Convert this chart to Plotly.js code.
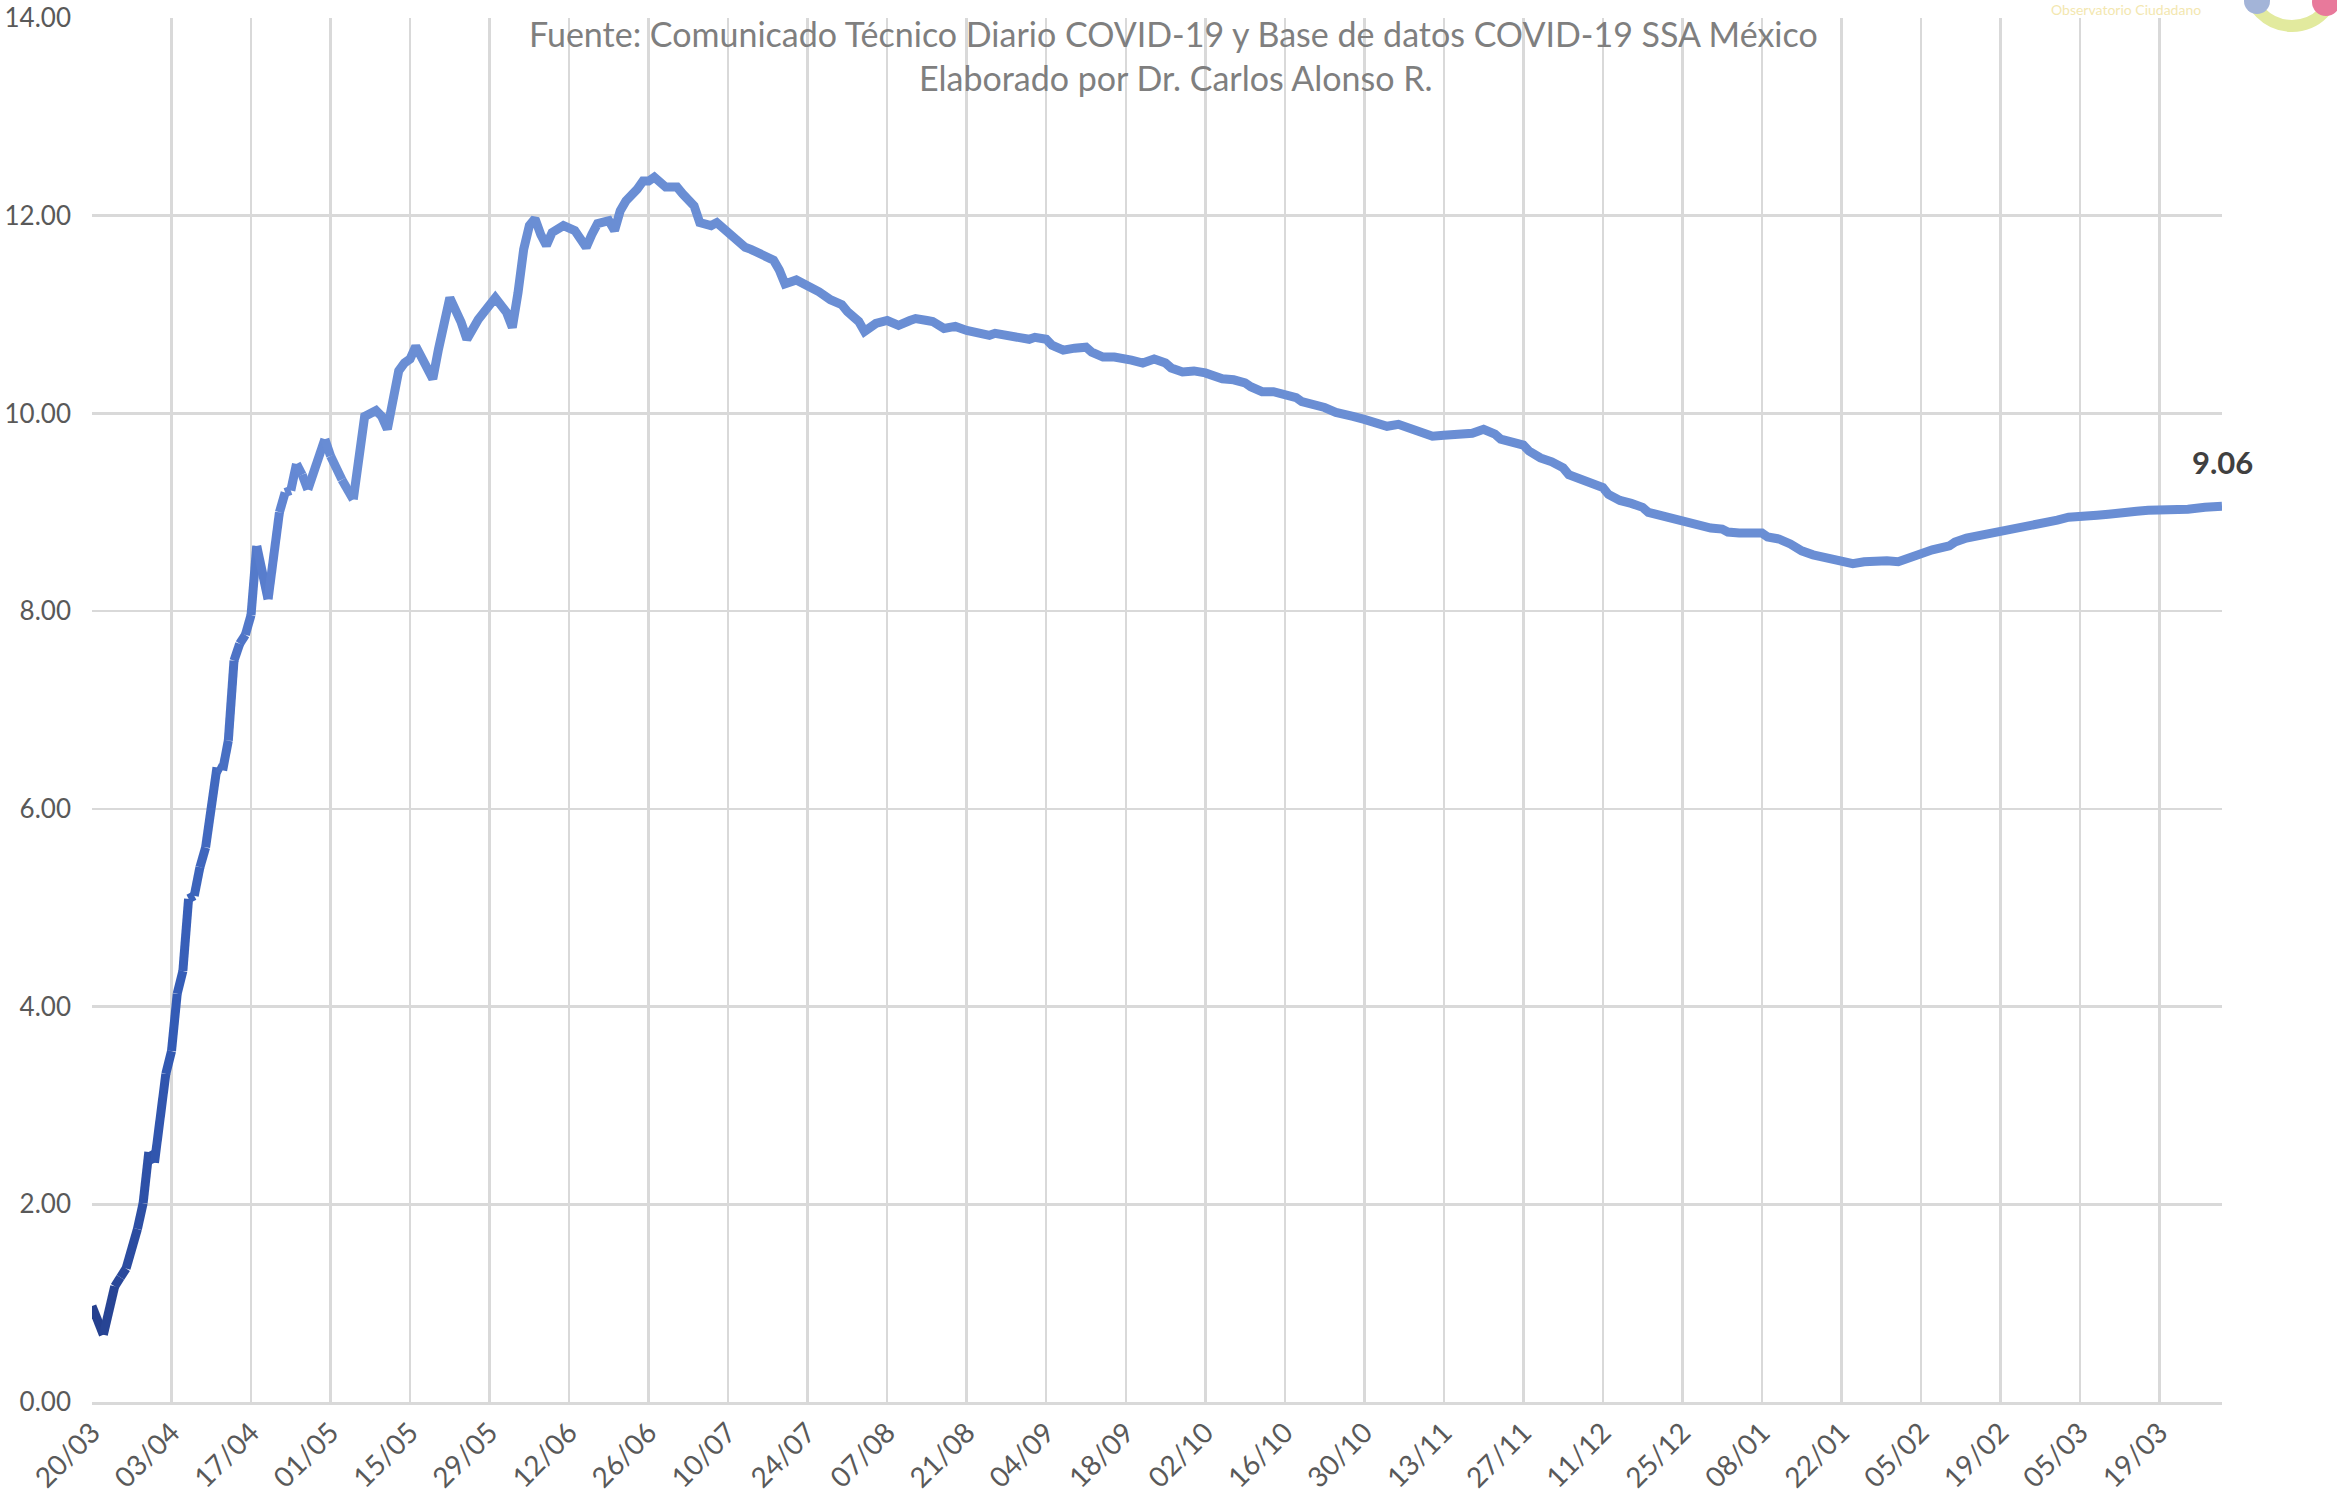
<!DOCTYPE html>
<html><head><meta charset="utf-8">
<script src="https://cdn.plot.ly/plotly-3.0.1.min.js"></script>
<style>html,body{margin:0;padding:0;background:#fff;} #chart{width:2337px;height:1511px;}</style>
</head><body><div id="chart"></div>
<script>
// ---- Data ----
const fechas = [
'2020-03-20','2020-03-22','2020-03-24','2020-03-25','2020-03-26','2020-03-28','2020-03-29','2020-03-30','2020-03-31',
'2020-04-02','2020-04-03','2020-04-04','2020-04-05','2020-04-06','2020-04-07','2020-04-08','2020-04-09','2020-04-11',
'2020-04-12','2020-04-13','2020-04-14','2020-04-15','2020-04-16','2020-04-17','2020-04-18','2020-04-20','2020-04-22',
'2020-04-23','2020-04-24','2020-04-25','2020-04-26','2020-04-27','2020-04-30','2020-05-01','2020-05-03','2020-05-05',
'2020-05-06','2020-05-07','2020-05-09','2020-05-10','2020-05-11','2020-05-13','2020-05-14','2020-05-15','2020-05-16',
'2020-05-18','2020-05-19','2020-05-20','2020-05-21','2020-05-22','2020-05-24','2020-05-25','2020-05-27','2020-05-29',
'2020-05-30','2020-06-01','2020-06-02','2020-06-03','2020-06-04','2020-06-05','2020-06-06','2020-06-07','2020-06-08',
'2020-06-09','2020-06-11','2020-06-13','2020-06-14','2020-06-15','2020-06-16','2020-06-17','2020-06-19','2020-06-20',
'2020-06-21','2020-06-22','2020-06-24','2020-06-25','2020-06-26','2020-06-27','2020-06-29','2020-06-30','2020-07-01',
'2020-07-02','2020-07-04','2020-07-05','2020-07-07','2020-07-08','2020-07-09','2020-07-11','2020-07-13','2020-07-14',
'2020-07-16','2020-07-18','2020-07-19','2020-07-20','2020-07-22','2020-07-24','2020-07-26','2020-07-28','2020-07-30',
'2020-07-31','2020-08-02','2020-08-03','2020-08-05','2020-08-07','2020-08-09','2020-08-11','2020-08-12','2020-08-14',
'2020-08-15','2020-08-17','2020-08-19','2020-08-21','2020-08-23','2020-08-25','2020-08-26','2020-08-28','2020-08-30',
'2020-09-01','2020-09-02','2020-09-04','2020-09-05','2020-09-07','2020-09-09','2020-09-11','2020-09-12','2020-09-14',
'2020-09-16','2020-09-18','2020-09-19','2020-09-21','2020-09-23','2020-09-25','2020-09-26','2020-09-28','2020-09-30',
'2020-10-02','2020-10-03','2020-10-05','2020-10-07','2020-10-09','2020-10-10','2020-10-12','2020-10-14','2020-10-16',
'2020-10-18','2020-10-19','2020-10-21','2020-10-23','2020-10-25','2020-10-27','2020-10-28','2020-10-30','2020-11-01',
'2020-11-03','2020-11-05','2020-11-06','2020-11-08','2020-11-10','2020-11-11','2020-11-13','2020-11-15','2020-11-17',
'2020-11-18','2020-11-20','2020-11-22','2020-11-23','2020-11-25','2020-11-27','2020-11-28','2020-11-30','2020-12-02',
'2020-12-04','2020-12-05','2020-12-07','2020-12-09','2020-12-11','2020-12-12','2020-12-14','2020-12-16','2020-12-18',
'2020-12-19','2020-12-21','2020-12-23','2020-12-25','2020-12-26','2020-12-28','2020-12-30','2021-01-01','2021-01-02',
'2021-01-04','2021-01-06','2021-01-08','2021-01-09','2021-01-11','2021-01-13','2021-01-15','2021-01-17','2021-01-19',
'2021-01-21','2021-01-23','2021-01-24','2021-01-26','2021-01-28','2021-01-30','2021-02-01','2021-02-02','2021-02-04',
'2021-02-05','2021-02-07','2021-02-10','2021-02-11','2021-02-13','2021-02-15','2021-02-17','2021-02-20','2021-02-22',
'2021-02-24','2021-02-26','2021-03-01','2021-03-03','2021-03-05','2021-03-08','2021-03-10','2021-03-12','2021-03-15',
'2021-03-17','2021-03-20','2021-03-22','2021-03-24','2021-03-27','2021-03-30'
];
const letalidad = [
0.97,0.68,1.17,1.26,1.35,1.75,2.01,2.53,2.42,
3.32,3.55,4.13,4.36,5.09,5.12,5.41,5.61,6.42,
6.39,6.69,7.50,7.67,7.76,7.96,8.66,8.12,9.00,
9.20,9.22,9.49,9.38,9.23,9.74,9.57,9.33,9.13,
9.65,9.97,10.03,9.97,9.84,10.43,10.51,10.55,10.68,
10.48,10.35,10.65,10.92,11.17,10.92,10.75,10.95,11.12,
11.17,11.02,10.87,11.22,11.66,11.90,11.97,11.81,11.70,
11.83,11.90,11.85,11.76,11.68,11.81,11.92,11.95,11.85,
12.05,12.15,12.27,12.35,12.35,12.39,12.29,12.29,12.29,
12.22,12.10,11.93,11.90,11.93,11.88,11.78,11.68,11.66,
11.61,11.55,11.45,11.31,11.35,11.30,11.23,11.15,11.10,
11.03,10.93,10.83,10.91,10.94,10.89,10.94,10.96,10.94,
10.93,10.86,10.88,10.84,10.81,10.79,10.81,10.79,10.78,
10.75,10.77,10.75,10.69,10.64,10.66,10.67,10.62,10.57,
10.57,10.56,10.54,10.51,10.55,10.51,10.46,10.42,10.43,
10.41,10.39,10.35,10.34,10.31,10.27,10.22,10.22,10.20,
10.16,10.12,10.10,10.06,10.01,9.97,9.97,9.94,9.91,
9.87,9.89,9.87,9.84,9.79,9.77,9.78,9.78,9.79,
9.80,9.84,9.79,9.74,9.70,9.68,9.62,9.55,9.51,
9.45,9.38,9.33,9.30,9.25,9.18,9.12,9.09,9.05,
9.00,8.97,8.93,8.91,8.88,8.85,8.84,8.83,8.80,
8.79,8.80,8.79,8.75,8.73,8.68,8.61,8.57,8.55,
8.52,8.49,8.48,8.50,8.51,8.51,8.50,8.52,8.57,
8.60,8.62,8.66,8.70,8.74,8.76,8.80,8.83,8.84,
8.87,8.89,8.92,8.95,8.95,8.97,8.98,9.00,9.01,
9.02,9.02,9.03,9.03,9.05,9.06
];
const inicioEje = '2020-03-20';
const finEje = '2021-03-30';
const textoFuente = 'Fuente: Comunicado Técnico Diario COVID-19 y Base de datos COVID-19 SSA México';
const textoAutor = 'Elaborado por Dr. Carlos Alonso R.';
const textoObservatorio = 'Observatorio Ciudadano';

// ---- Styling ----
const FONT = 'Lato, "Open Sans", sans-serif';
const W = 2337, H = 1511;
const M = {l: 92, r: 115, t: 18, b: 109};
const PW = W - M.l - M.r, PH = H - M.t - M.b;
const px2x = p => (p - M.l) / PW;
const py2y = p => (H - M.b - p) / PH;

// gradient for the early part of the line (dark navy -> light blue)
const stops = [[0,[36,62,140]],[15,[52,92,182]],[35,[100,136,212]],[45,[106,142,212]]];
function colorAt(d){
  if (d >= stops[stops.length-1][0]) return stops[stops.length-1][1];
  for (let k=0;k<stops.length-1;k++){
    const [d0,c0]=stops[k],[d1,c1]=stops[k+1];
    if (d>=d0 && d<=d1){const t=(d-d0)/(d1-d0);return c0.map((v,j)=>Math.round(v+(c1[j]-v)*t));}
  }
  return stops[0][1];
}
const t0 = Date.parse(inicioEje);
const dayOf = s => (Date.parse(s) - t0) / 86400000;

const LW = 9;
const traces = [];
let split = fechas.findIndex(f => dayOf(f) >= 45);
for (let i = 0; i < split; i++) {
  const c = colorAt((dayOf(fechas[i]) + dayOf(fechas[i+1]))/2);
  traces.push({x: fechas.slice(i, i+2), y: letalidad.slice(i, i+2), type: 'scatter', mode: 'lines',
    line: {color: `rgb(${c.join(',')})`, width: LW}, hoverinfo: 'skip', showlegend: false});
}
traces.push({x: fechas.slice(split), y: letalidad.slice(split), type: 'scatter', mode: 'lines',
  line: {color: 'rgb(106,142,212)', width: LW}, showlegend: false});

const last = letalidad.length - 1;
const layout = {
  width: W, height: H,
  margin: M,
  paper_bgcolor: '#ffffff', plot_bgcolor: '#ffffff',
  font: {family: FONT, color: '#595959'},
  showlegend: false,
  xaxis: {
    type: 'date', range: [inicioEje, finEje],
    tick0: inicioEje, dtick: 14*86400000, tickformat: '%d/%m', tickangle: -45,
    tickfont: {family: FONT, size: 28, color: '#595959'},
    showgrid: true, gridcolor: '#d9d9d9', gridwidth: 2.5,
    showline: true, linecolor: '#d9d9d9', linewidth: 3,
    ticks: '', zeroline: false, automargin: false
  },
  yaxis: {
    range: [0, 14], dtick: 2, tickformat: '.2f',
    tickfont: {family: FONT, size: 26, color: '#595959'},
    showgrid: true, gridcolor: '#d9d9d9', gridwidth: 2.5,
    showline: false, zeroline: false, ticks: '', ticklabelstandoff: 20, automargin: false
  },
  annotations: [
    {xref: 'paper', yref: 'paper', x: px2x(1173), y: py2y(33), text: textoFuente, showarrow: false,
     xanchor: 'center', yanchor: 'middle', font: {family: FONT, size: 34, color: '#7f7f7f'}},
    {xref: 'paper', yref: 'paper', x: px2x(1176), y: py2y(78), text: textoAutor, showarrow: false,
     xanchor: 'center', yanchor: 'middle', font: {family: FONT, size: 34, color: '#7f7f7f'}},
    {xref: 'x', yref: 'y', x: fechas[last], y: letalidad[last], text: '<b>' + letalidad[last].toFixed(2) + '</b>',
     showarrow: false, xanchor: 'center', yanchor: 'middle', yshift: 44,
     font: {family: FONT, size: 31, color: '#404040'}},
    {xref: 'paper', yref: 'paper', x: px2x(2126), y: py2y(9), text: textoObservatorio, showarrow: false,
     xanchor: 'center', yanchor: 'middle', font: {family: FONT, size: 14, color: '#f3e7b0'}}
  ],
  shapes: [
    {type: 'circle', xref: 'paper', yref: 'paper', x0: px2x(2248), x1: px2x(2336), y0: py2y(26), y1: py2y(-62),
     line: {color: '#e2ea9e', width: 12}, fillcolor: 'rgba(0,0,0,0)', layer: 'above'},
    {type: 'circle', xref: 'paper', yref: 'paper', x0: px2x(2244), x1: px2x(2270), y0: py2y(14), y1: py2y(-12),
     line: {width: 0}, fillcolor: '#a3b4d8', layer: 'above'},
    {type: 'circle', xref: 'paper', yref: 'paper', x0: px2x(2312), x1: px2x(2340), y0: py2y(16), y1: py2y(-12),
     line: {width: 0}, fillcolor: '#e8799b', layer: 'above'}
  ]
};

Plotly.newPlot('chart', traces, layout, {displayModeBar: false, staticPlot: true});
</script>
</body></html>
